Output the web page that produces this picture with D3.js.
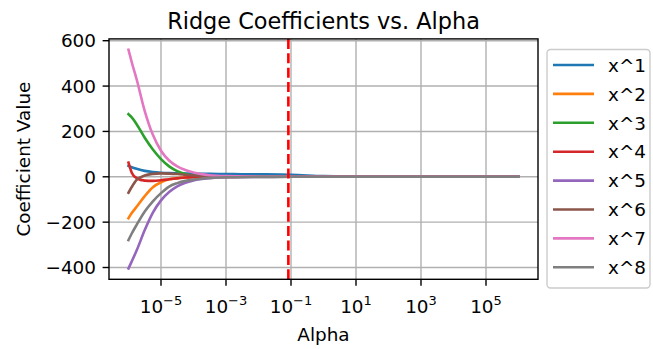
<!DOCTYPE html>
<html>
<head>
<meta charset="utf-8">
<script src="https://cdn.jsdelivr.net/npm/d3@7"></script>
<style>
  body { margin: 0; background: #fff; }
  svg { font-family: "DejaVu Sans", sans-serif; display: block; }
</style>
</head>
<body>
<svg id="Chart"></svg>
<script>
// alpha grid as powers of ten
const alphaExp = [-6, -5.9, -5.75, -5.5, -5.25, -5, -4.75, -4.5, -4.25, -4, -3.5, -3, -2, -1, 0, 1, 2, 3, 4, 5, 6];

const coefX1 = [48, 42, 35, 26, 21, 18, 16, 15, 14.5, 14, 13, 12, 11, 9, 3, 1, 0.3, 0.1, 0, 0, 0];
const coefX2 = [-183, -160, -132, -85, -46, -24, -11, -6, -3, -1.5, -0.5, -0.2, 0, 0, 0, 0, 0, 0, 0, 0, 0];
const coefX3 = [276, 262, 232, 172, 120, 78, 46, 25, 12, 6, 2, 1, 0.3, 0, 0, 0, 0, 0, 0, 0, 0];
const coefX4 = [62, 18, -6, -17, -18, -15, -11, -7, -3, -1.5, -0.5, -0.2, 0, 0, 0, 0, 0, 0, 0, 0, 0];
const coefX5 = [-404, -373, -325, -235, -158, -104, -67, -42, -26, -16, -6, -2, -0.5, 0, 0, 0, 0, 0, 0, 0, 0];
const coefX6 = [-70, -45, -14, 6, 13, 15, 14, 12, 9, 6, 2, 0.5, 0, 0, 0, 0, 0, 0, 0, 0, 0];
const coefX7 = [560, 505, 430, 290, 185, 115, 72, 46, 30, 19, 7, 3, 1, 0.3, 0, 0, 0, 0, 0, 0, 0];
const coefX8 = [-279, -250, -212, -153, -108, -72, -43, -28, -18, -12, -5, -2, -0.5, 0, 0, 0, 0, 0, 0, 0, 0];

const seriesNames = ['x^1', 'x^2', 'x^3', 'x^4', 'x^5', 'x^6', 'x^7', 'x^8'];
const seriesValues = [coefX1, coefX2, coefX3, coefX4, coefX5, coefX6, coefX7, coefX8];
const colors = ['#1f77b4', '#ff7f0e', '#2ca02c', '#d62728', '#9467bd', '#8c564b', '#e377c2', '#7f7f7f'];

const bestAlpha = 0.083;
const xTickExp = [-5, -3, -1, 1, 3, 5];
const yTicks = [-400, -200, 0, 200, 400, 600];

const W = 653, H = 349;
const pLeft = 109, pRight = 538, pTop = 38.9, pBottom = 279.3;
const tickFont = 18.4;

const svg = d3.select('#Chart').attr('width', W).attr('height', H);

const x = d3.scaleLog().domain([Math.pow(10, -6.6), Math.pow(10, 6.6)]).range([pLeft, pRight]);
const y = d3.scaleLinear().domain([-452, 608]).range([pBottom, pTop]);

// grid
svg.append('g').selectAll('line')
  .data(xTickExp)
  .enter().append('line')
  .attr('x1', d => x(Math.pow(10, d))).attr('x2', d => x(Math.pow(10, d)))
  .attr('y1', pTop).attr('y2', pBottom)
  .attr('stroke', '#b0b0b0').attr('stroke-width', 1.4);

svg.append('g').selectAll('line')
  .data(yTicks)
  .enter().append('line')
  .attr('y1', d => y(d)).attr('y2', d => y(d))
  .attr('x1', pLeft).attr('x2', pRight)
  .attr('stroke', '#b0b0b0').attr('stroke-width', 1.4);

// coefficient paths
const line = d3.line()
  .x((d, i) => x(Math.pow(10, alphaExp[i])))
  .y(d => y(d))
  .curve(d3.curveMonotoneX);

const plot = svg.append('g');
seriesValues.forEach((vals, k) => {
  plot.append('path')
    .datum(vals)
    .attr('d', line)
    .attr('fill', 'none')
    .attr('stroke', colors[k])
    .attr('stroke-width', 2.6)
    .attr('stroke-linecap', 'square');
});

// chosen alpha
svg.append('line')
  .attr('x1', x(bestAlpha)).attr('x2', x(bestAlpha))
  .attr('y1', pTop).attr('y2', pBottom)
  .attr('stroke', '#ff0000')
  .attr('stroke-width', 2.6)
  .attr('stroke-dasharray', '10,4.4');

// spines
svg.append('rect')
  .attr('x', pLeft).attr('y', pTop)
  .attr('width', pRight - pLeft).attr('height', pBottom - pTop)
  .attr('fill', 'none').attr('stroke', '#000').attr('stroke-width', 1.4);

// y ticks
const yAxis = svg.append('g');
yTicks.forEach(t => {
  yAxis.append('line')
    .attr('x1', pLeft - 6.4).attr('x2', pLeft)
    .attr('y1', y(t)).attr('y2', y(t))
    .attr('stroke', '#000').attr('stroke-width', 1.4);
  yAxis.append('text')
    .attr('x', pLeft - 13)
    .attr('y', y(t) + tickFont * 0.365)
    .attr('text-anchor', 'end')
    .style('font-size', tickFont + 'px')
    .text(t < 0 ? '\u2212' + Math.abs(t) : t);
});

// x ticks, 10^n labels
const xAxis = svg.append('g');
xTickExp.forEach(e => {
  const px = x(Math.pow(10, e));
  xAxis.append('line')
    .attr('x1', px).attr('x2', px)
    .attr('y1', pBottom).attr('y2', pBottom + 6.4)
    .attr('stroke', '#000').attr('stroke-width', 1.4);
  const t = xAxis.append('text')
    .attr('x', px)
    .attr('y', 313.3)
    .attr('text-anchor', 'middle')
    .style('font-size', tickFont + 'px');
  t.append('tspan').text('10');
  t.append('tspan')
    .attr('dy', -8)
    .style('font-size', '13px')
    .text(e < 0 ? '\u2212' + Math.abs(e) : e);
});

// labels
svg.append('text')
  .attr('x', (pLeft + pRight) / 2).attr('y', 29.3)
  .attr('text-anchor', 'middle')
  .style('font-size', '22.4px')
  .text('Ridge Coefficients vs. Alpha');

svg.append('text')
  .attr('x', (pLeft + pRight) / 2).attr('y', 340.7)
  .attr('text-anchor', 'middle')
  .style('font-size', tickFont + 'px')
  .text('Alpha');

svg.append('text')
  .attr('transform', 'translate(30,' + ((pTop + pBottom) / 2) + ') rotate(-90)')
  .attr('text-anchor', 'middle')
  .style('font-size', tickFont + 'px')
  .text('Coefficient Value');

// legend
const legendX = 547, legendY = 49.5, legendSpacing = 28.9;
svg.append('rect')
  .attr('x', legendX).attr('y', legendY)
  .attr('width', 103).attr('height', 238.5)
  .attr('rx', 3.5)
  .attr('fill', '#fff').attr('fill-opacity', 0.8)
  .attr('stroke', '#cccccc').attr('stroke-width', 1.4);

const legend = svg.selectAll('.legend')
  .data(seriesNames)
  .enter().append('g')
  .attr('class', 'legend')
  .attr('transform', (d, i) => `translate(${legendX},${65 + i * legendSpacing})`);

legend.append('line')
  .attr('x1', 6).attr('x2', 47)
  .attr('y1', 0).attr('y2', 0)
  .attr('stroke', (d, i) => colors[i])
  .attr('stroke-width', 2.6);

legend.append('text')
  .attr('x', 61)
  .attr('y', tickFont * 0.365)
  .style('font-size', tickFont + 'px')
  .text(d => d);
</script>
</body>
</html>
